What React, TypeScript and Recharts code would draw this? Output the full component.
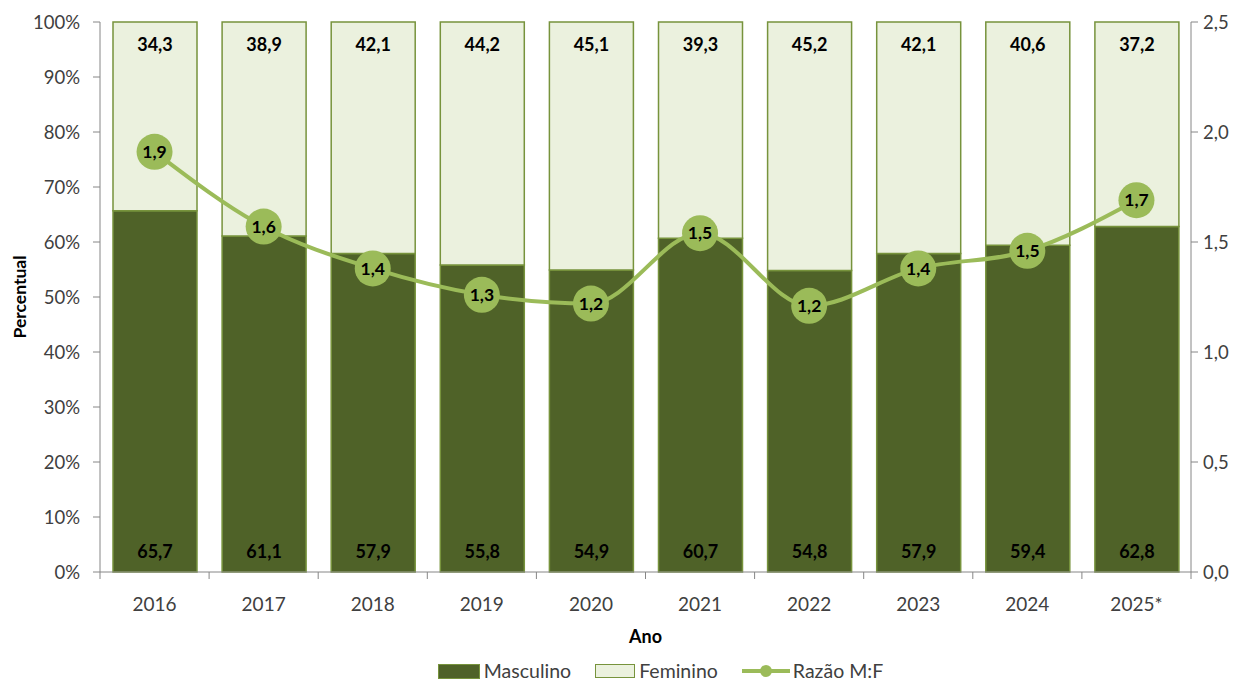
import React from 'react';
import { ComposedChart, Bar, Line, XAxis, YAxis, LabelList, Legend } from 'recharts';

const years = ['2016', '2017', '2018', '2019', '2020', '2021', '2022', '2023', '2024', '2025*'];
const masculino = [65.7, 61.1, 57.9, 55.8, 54.9, 60.7, 54.8, 57.9, 59.4, 62.8];
const feminino = [34.3, 38.9, 42.1, 44.2, 45.1, 39.3, 45.2, 42.1, 40.6, 37.2];
const razao = [1.91, 1.57, 1.38, 1.26, 1.22, 1.54, 1.21, 1.38, 1.46, 1.69];
const leftTicks = [0, 10, 20, 30, 40, 50, 60, 70, 80, 90, 100];
const rightTicks = [0, 0.5, 1, 1.5, 2, 2.5];

const data = years.map((y, i) => ({ ano: y, masc: masculino[i], fem: feminino[i], razao: razao[i] }));

const FONT = 'Lato, "Open Sans", sans-serif';
const AXIS = '#868686';
const TEXT = '#404040';
const DARK = '#4F6228';
const LIGHT = '#EBF1DE';
const BORDER = '#77933C';
const LINE = '#9BBB59';

const fmt1 = (v: number) => v.toFixed(1).replace('.', ',');

const YearTick = (props: any) => {
  const { x, y, payload, index, visibleTicksCount } = props;
  const half = payload && payload.offset ? payload.offset : 54.5;
  return (
    <g>
      <line x1={x - half} y1={y} x2={x - half} y2={y + 7} stroke={AXIS} strokeWidth={1} />
      {index === visibleTicksCount - 1 && (
        <line x1={x + half} y1={y} x2={x + half} y2={y + 7} stroke={AXIS} strokeWidth={1} />
      )}
      <text x={x} y={y + 39} textAnchor="middle" fill={TEXT} fontSize={19} fontFamily={FONT}>
        {payload.value}
      </text>
    </g>
  );
};

const LegendContent = () => (
  <div
    style={{
      display: 'flex',
      justifyContent: 'center',
      alignItems: 'center',
      fontFamily: FONT,
      fontSize: 19.5,
      color: TEXT,
      height: 22,
      lineHeight: '22px',
      paddingLeft: 82,
      overflow: 'visible',
    }}
  >
    <span style={{ display: 'inline-block', width: 40, height: 13, background: DARK, border: `1px solid ${BORDER}`, marginRight: 4 }} />
    <span style={{ marginRight: 24 }}>Masculino</span>
    <span style={{ display: 'inline-block', width: 38, height: 12, background: LIGHT, border: `1px solid ${BORDER}`, marginRight: 4 }} />
    <span style={{ marginRight: 24 }}>Feminino</span>
    <svg width={48} height={16} style={{ marginRight: 3 }}>
      <line x1={0} y1={8} x2={48} y2={8} stroke={LINE} strokeWidth={4} />
      <circle cx={24} cy={8} r={6} fill={LINE} />
    </svg>
    <span>Razão M:F</span>
  </div>
);

export default function App() {
  return (
    <div style={{ position: 'absolute', left: 0, top: 0, width: 1239, height: 682, background: '#fff' }}>
      <ComposedChart
        width={1239}
        height={682}
        data={data}
        margin={{ top: 22, right: 0, left: 0, bottom: 0 }}
        barSize={84}
        style={{ fontFamily: FONT }}
      >
        <XAxis
          dataKey="ano"
          xAxisId={0}
          height={88}
          tickLine={false}
          tickSize={0}
          tickMargin={0}
          stroke={AXIS}
          interval={0}
          tick={<YearTick />}
          label={{ value: 'Ano', position: 'insideBottom', offset: 17, fill: '#000', fontSize: 18, fontWeight: 700, fontFamily: FONT }}
        />
        <YAxis
          yAxisId="left"
          orientation="left"
          width={100}
          domain={[0, 100]}
          ticks={leftTicks}
          interval={0}
          tickFormatter={(v: number) => `${v}%`}
          stroke={AXIS}
          tickSize={7}
          tickMargin={13}
          tick={{ fill: TEXT, fontSize: 18.5, fontFamily: FONT }}
          label={(props: any) => {
            const vb = props.viewBox || { x: 0, y: 22, height: 550 };
            const cx = vb.x + 19;
            const cy = vb.y + vb.height / 2;
            return (
              <text x={cx} y={cy} transform={`rotate(-90 ${cx} ${cy})`} textAnchor="middle" dominantBaseline="central" fontSize={17.5} fontWeight={700} fill="#000" fontFamily={FONT}>
                Percentual
              </text>
            );
          }}
        />
        <YAxis
          yAxisId="right"
          orientation="right"
          width={48}
          domain={[0, 2.5]}
          ticks={rightTicks}
          interval={0}
          tickFormatter={fmt1}
          stroke={AXIS}
          tickSize={7}
          tickMargin={5}
          tick={{ fill: TEXT, fontSize: 18.5, fontFamily: FONT }}
        />
        <Legend verticalAlign="bottom" align="center" content={<LegendContent />} />
        <Bar dataKey="masc" stackId="s" yAxisId="left" fill={DARK} stroke={BORDER} strokeWidth={1.5} isAnimationActive={false} name="Masculino">
          <LabelList dataKey="masc" position="insideBottom" offset={14} formatter={(v: any) => fmt1(Number(v))} fill="#000" fontSize={18} fontWeight={700} fontFamily={FONT} />
        </Bar>
        <Bar dataKey="fem" stackId="s" yAxisId="left" fill={LIGHT} stroke={BORDER} strokeWidth={1.5} isAnimationActive={false} name="Feminino">
          <LabelList dataKey="fem" position="insideTop" offset={16} formatter={(v: any) => fmt1(Number(v))} fill="#000" fontSize={18} fontWeight={700} fontFamily={FONT} />
        </Bar>
        <Line
          dataKey="razao"
          yAxisId="right"
          type="monotone"
          stroke={LINE}
          strokeWidth={4}
          dot={{ r: 18, fill: LINE, stroke: LINE, strokeWidth: 0 }}
          activeDot={false}
          isAnimationActive={false}
          name="Razão M:F"
        >
          <LabelList dataKey="razao" position="center" formatter={(v: any) => fmt1(Number(v))} fill="#000" fontSize={17.5} fontWeight={700} fontFamily={FONT} />
        </Line>
      </ComposedChart>
    </div>
  );
}
